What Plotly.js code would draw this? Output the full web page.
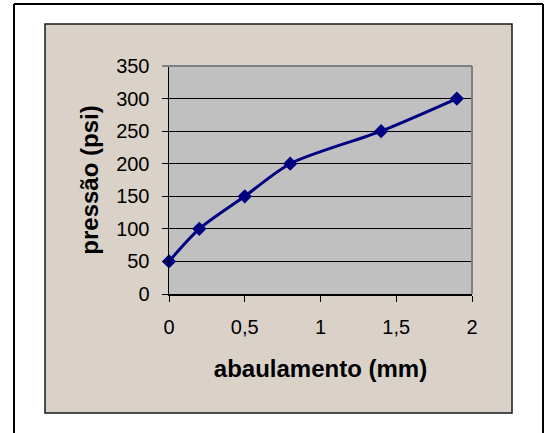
<!DOCTYPE html>
<html>
<head>
<meta charset="utf-8">
<script src="https://cdn.plot.ly/plotly-3.0.1.min.js"></script>
<style>
  html, body { margin: 0; padding: 0; background: #ffffff; }
  #chart { width: 550px; height: 433px; }
</style>
</head>
<body>
<div id="chart"></div>
<script>
// Pressão vs. abaulamento
const abaulamento = [0, 0.2, 0.5, 0.8, 1.4, 1.9];
const pressao = [50, 100, 150, 200, 250, 300];

const xTicks = [0, 0.5, 1, 1.5, 2];
const yTicks = [0, 50, 100, 150, 200, 250, 300, 350];

const W = 550, H = 433;
const plotL = 169, plotR = 472, plotT = 66, plotB = 294;

// pixel position -> paper coordinate helpers for the decorative frames
const px = v => (v - plotL) / (plotR - plotL);
const py = v => (plotB - v) / (plotB - plotT);

const tickFont = { family: 'Liberation Sans, Arial, sans-serif', size: 20, color: '#000000' };
const titleFont = { family: 'Liberation Sans, Arial, sans-serif', size: 24, color: '#000000', weight: 'bold' };

const trace = {
  x: abaulamento,
  y: pressao,
  type: 'scatter',
  mode: 'lines+markers',
  line: { color: '#000080', width: 3, shape: 'spline', smoothing: 0.8 },
  marker: { symbol: 'diamond', size: 11, color: '#000080' },
  cliponaxis: false,
  hoverinfo: 'x+y'
};

const layout = {
  width: W,
  height: H,
  margin: { l: plotL, r: W - plotR, t: plotT, b: H - plotB, pad: 0 },
  paper_bgcolor: '#ffffff',
  plot_bgcolor: 'rgba(0,0,0,0)',
  separators: ',.',
  showlegend: false,
  xaxis: {
    range: [0, 2],
    tickvals: xTicks,
    showgrid: false,
    zeroline: false,
    showline: true,
    linecolor: '#000000',
    linewidth: 1.5,
    ticks: 'outside',
    ticklen: 6,
    tickwidth: 1,
    tickcolor: '#000000',
    tickfont: tickFont,
    ticklabelstandoff: 8,
    title: { text: '<b>abaulamento (mm)</b>', font: titleFont, standoff: 23 }
  },
  yaxis: {
    range: [0, 350],
    tickvals: yTicks,
    showgrid: true,
    gridcolor: '#000000',
    gridwidth: 1,
    zeroline: false,
    showline: true,
    linecolor: '#000000',
    linewidth: 1.5,
    ticks: 'outside',
    ticklen: 6,
    tickwidth: 1,
    tickcolor: '#000000',
    tickfont: tickFont,
    ticklabelstandoff: 8,
    title: { text: '<b>pressão (psi)</b>', font: titleFont, standoff: 10 }
  },
  shapes: [
    // outer page frame
    { type: 'line', xref: 'paper', yref: 'paper', x0: px(14), x1: px(14), y0: py(4), y1: py(440),
      line: { color: '#000000', width: 2 } },
    { type: 'line', xref: 'paper', yref: 'paper', x0: px(14), x1: px(543), y0: py(4), y1: py(4),
      line: { color: '#000000', width: 2 } },
    { type: 'line', xref: 'paper', yref: 'paper', x0: px(543), x1: px(543), y0: py(4), y1: py(440),
      line: { color: '#000000', width: 2 } },
    // chart area
    { type: 'rect', xref: 'paper', yref: 'paper', layer: 'below',
      x0: px(45), x1: px(512), y0: py(413), y1: py(24),
      fillcolor: '#DAD2C9', line: { color: '#1a1a1a', width: 1.5 } },
    // plot area
    { type: 'rect', xref: 'paper', yref: 'paper', layer: 'below',
      x0: 0, x1: 1, y0: 0, y1: 1,
      fillcolor: '#C0C0C0', line: { width: 0 } },
    // plot area border, top and right
    { type: 'line', xref: 'paper', yref: 'paper', x0: px(162), x1: 1, y0: 1, y1: 1,
      line: { color: '#808080', width: 2 } },
    { type: 'line', xref: 'paper', yref: 'paper', x0: 1, x1: 1, y0: 0, y1: 1,
      line: { color: '#808080', width: 2 } }
  ]
};

Plotly.newPlot('chart', [trace], layout, { displayModeBar: false, staticPlot: true });
</script>
</body>
</html>
